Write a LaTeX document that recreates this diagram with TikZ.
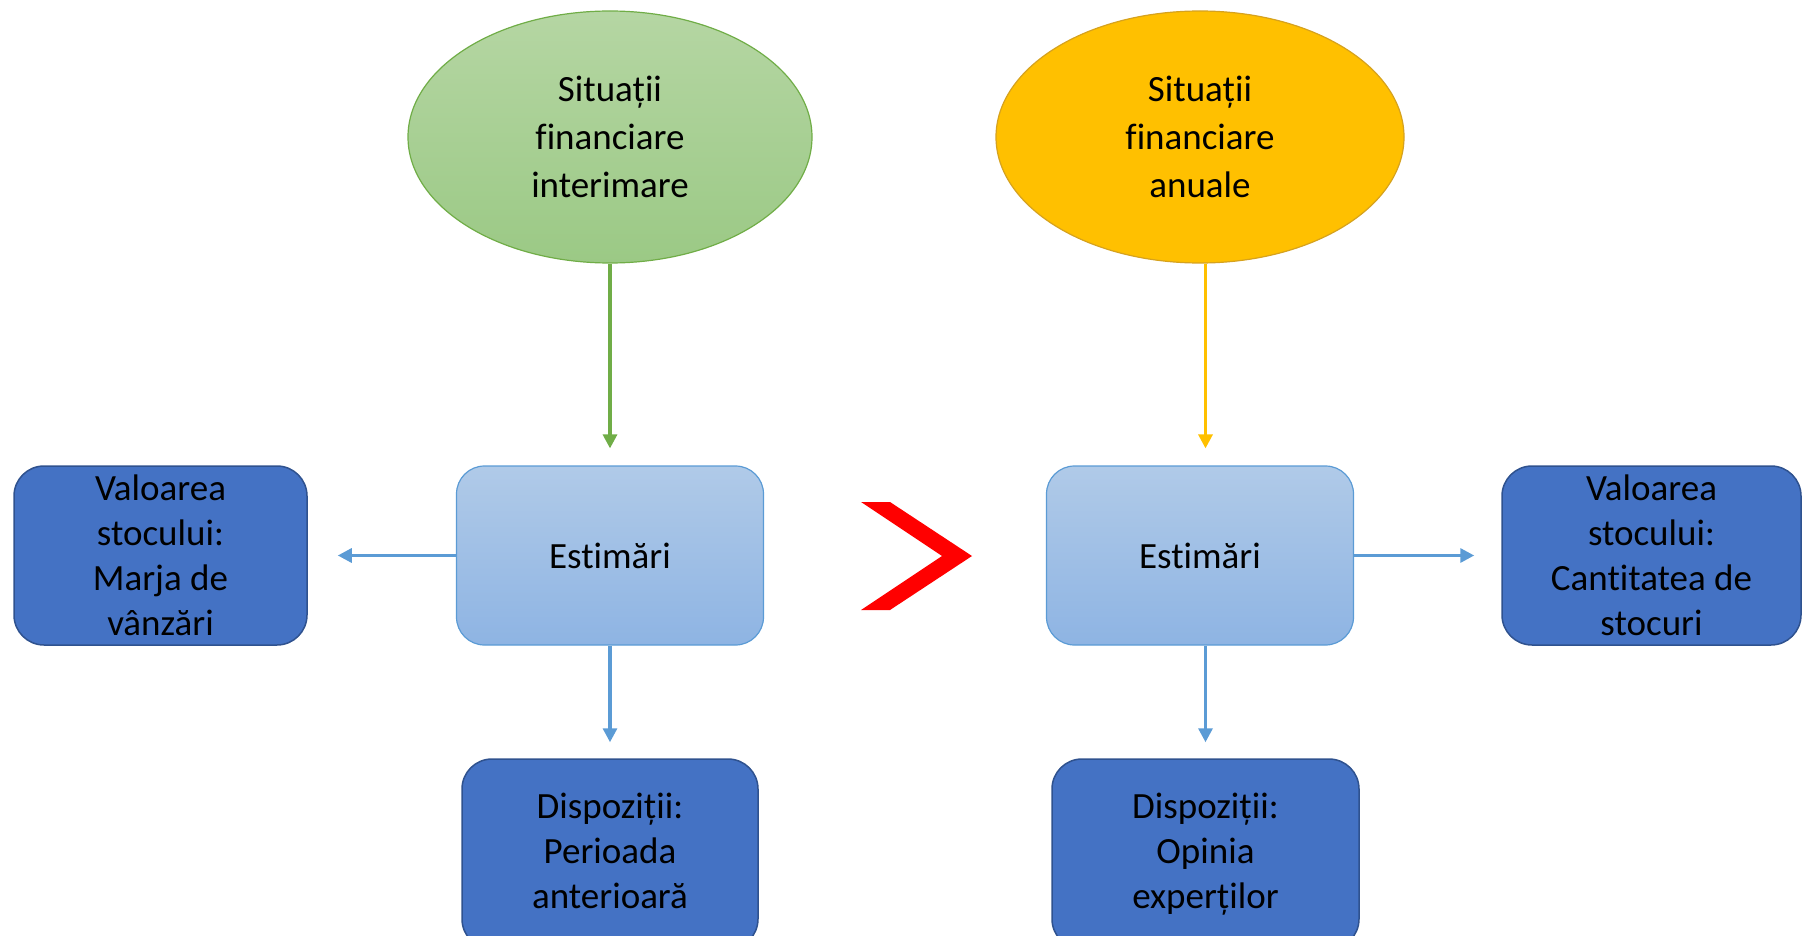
\documentclass[tikz,border=0pt]{standalone}
\usepackage{fontspec}
\setmainfont{Carlito}[Ligatures=NoCommon]
\usepackage{tikz}
\usetikzlibrary{arrows.meta,shapes.geometric}
\definecolor{grnline}{HTML}{70AD47}
\definecolor{grntop}{HTML}{B5D6A3}
\definecolor{grnbot}{HTML}{9BC985}
\definecolor{ylwfill}{HTML}{FFC000}
\definecolor{ylwline}{HTML}{D6A21E}
\definecolor{estline}{HTML}{5B9BD5}
\definecolor{esttop}{HTML}{B0CAE8}
\definecolor{estbot}{HTML}{8EB4E3}
\definecolor{darkfill}{HTML}{4472C4}
\definecolor{darkline}{HTML}{2F528F}
\tikzset{
  sitgreen/.style={ellipse, draw=grnline, line width=1.2pt, top color=grntop, bottom color=grnbot, minimum width=404pt, minimum height=252pt, inner sep=0pt, align=center, font=\fontsize{37}{47.7}\selectfont},
  sityellow/.style={ellipse, draw=ylwline, line width=1.2pt, fill=ylwfill, minimum width=408pt, minimum height=252pt, inner sep=0pt, align=center, font=\fontsize{37}{47.7}\selectfont},
  estbox/.style={draw=estline, line width=1.2pt, rounded corners=28pt, top color=esttop, bottom color=estbot, minimum width=307pt, minimum height=179pt, inner sep=0pt, align=center, font=\fontsize{37}{45}\selectfont},
  darkbox/.style={draw=darkline, line width=1.5pt, rounded corners=30pt, fill=darkfill, minimum height=179pt, inner sep=0pt, align=center, font=\fontsize{37}{45}\selectfont},
  bluearrow/.style={-{Triangle[length=14pt,width=14pt]}, line width=3.2pt, draw=estline},
  grnarrow/.style={-{Triangle[length=14pt,width=14pt]}, line width=3.2pt, draw=grnline},
  ylwarrow/.style={-{Triangle[length=14pt,width=14pt]}, line width=3.2pt, draw=ylwfill}
}
\begin{document}
\begin{tikzpicture}[x=1pt, y=-1pt]
\useasboundingbox (0,0) rectangle (1802,936);
% ellipses
\node[sitgreen] (sfi) at (610,137) {Situații\\financiare\\interimare};
\node[sityellow] (sfa) at (1200,137) {Situații\\financiare\\anuale};
% middle row
\node[darkbox, minimum width=293pt] (valL) at (160.5,555.5) {Valoarea\\stocului:\\Marja de\\vânzări};
\node[estbox] (estL) at (610,555.5) {Estimări};
\node[estbox] (estR) at (1200,555.5) {Estimări};
\node[darkbox, minimum width=299pt] (valR) at (1651.5,555.5) {Valoarea\\stocului:\\Cantitatea de\\stocuri};
% bottom row
\node[darkbox, minimum width=296pt, minimum height=190pt, text depth=7pt] (dispL) at (610,854) {Dispoziții:\\Perioada\\anterioară};
\node[darkbox, minimum width=307pt, minimum height=190pt] (dispR) at (1205.5,854) {Dispoziții:\\Opinia\\experților};
% chevron
\fill[red] (861,502) -- (890,502) -- (972,556) -- (890,610) -- (861,610) -- (942,556) -- cycle;
% arrows
\draw[grnarrow, shorten >=17pt] (sfi) -- (estL);
\draw[ylwarrow, shorten >=17pt] (sfa.south -| dispR.north) -- (estR.north -| dispR.north);
\draw[bluearrow, shorten >=30pt] (estL.west) -- (valL.east);
\draw[bluearrow, shorten >=27pt] (estR.east) -- (valR.west);
\draw[bluearrow, shorten >=16pt] (estL.south) -- (dispL.north);
\draw[bluearrow, shorten >=16pt] (estR.south -| dispR.north) -- (dispR.north);
\end{tikzpicture}
\end{document}
